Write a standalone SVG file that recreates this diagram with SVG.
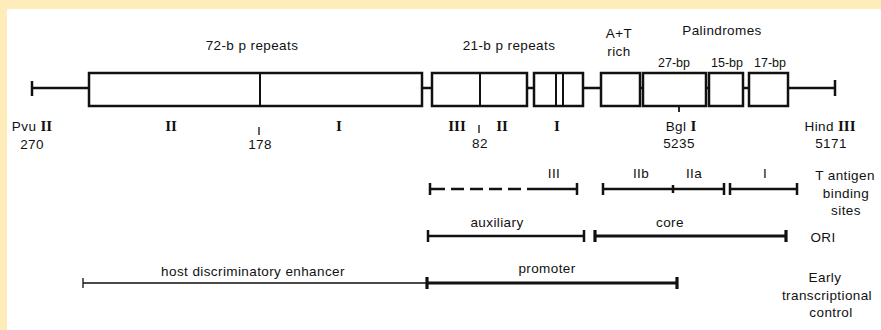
<svg xmlns="http://www.w3.org/2000/svg" width="881" height="330" viewBox="0 0 881 330">
<style>
text{font-family:"Liberation Sans","DejaVu Sans",sans-serif;font-size:13.5px;fill:#111;text-anchor:middle;letter-spacing:0.4px}
.rn{font-family:"Liberation Serif",serif;font-weight:bold;font-size:15px;letter-spacing:0}
.box{fill:#fff;stroke:#111;stroke-width:2.5}
.ln{stroke:#111;stroke-width:2.5;fill:none}
.thin{stroke:#111;stroke-width:1.3;fill:none}
.thk{stroke:#111;stroke-width:3.2;fill:none}
</style>
<rect x="0" y="0" width="881" height="330" fill="#FEEDBA"/>
<rect x="7" y="9" width="874" height="321" fill="#fff"/>

<g id="connectors">
  <path class="ln" d="M32 88H89 M32 81V96 M422 88H432 M527 88H534 M583 88H601 M640 88H643 M706 88H709 M743 88H749 M788 88H835 M835 80V96"/>
  <path class="ln" d="M679 106V112" style="stroke-width:1.8"/>
  <path class="ln" d="M430 189H445 M451 189H464 M470 189H483 M489 189H502 M508 189H521 M527 189H577 M430 183V195 M577 183V195"/>
  <path class="ln" d="M603 189H724 M603 183V195 M724 183V195 M673 185V193"/>
  <path class="ln" d="M730 189H797 M730 183V195 M797 183V195"/>
  <path class="ln" d="M428 236H584 M428 230V242 M584 230V242"/>
  <path class="thk" d="M595 236H786 M595 230V242 M786 230V242"/>
  <path class="thin" d="M83 283H427 M83 278V288"/>
  <path class="thk" d="M427 283H677 M427 277V289 M677 277V289"/>
</g>

<g id="repeat72">
  <rect class="box" x="89" y="73" width="333" height="33"/>
  <path class="ln" d="M260 73V106" style="stroke-width:2"/>
  <text x="252" y="50">72-b p repeats</text>
</g>
<g id="repeat21">
  <rect class="box" x="432" y="73" width="95" height="33"/>
  <path class="ln" d="M480 73V106" style="stroke-width:2"/>
  <rect class="box" x="534" y="73" width="49" height="33"/>
  <path class="ln" d="M556 73V106 M563 73V106" style="stroke-width:2"/>
  <text x="509" y="50">21-b p repeats</text>
</g>
<g id="atrich">
  <rect class="box" x="601" y="73" width="39" height="33"/>
  <text x="619" y="38">A+T</text>
  <text x="619" y="56">rich</text>
</g>
<g id="palindromes">
  <rect class="box" x="643" y="73" width="63" height="33"/>
  <rect class="box" x="709" y="73" width="34" height="33"/>
  <rect class="box" x="749" y="73" width="39" height="33"/>
  <text x="722" y="35">Palindromes</text>
  <text x="674" y="67" style="font-size:12.5px;letter-spacing:0">27-bp</text>
  <text x="727" y="67" style="font-size:12.5px;letter-spacing:0">15-bp</text>
  <text x="770" y="67" style="font-size:12.5px;letter-spacing:0">17-bp</text>
</g>

<g id="labels-sites">
  <text x="32" y="131">Pvu <tspan class="rn">II</tspan></text>
  <text x="32" y="149">270</text>
  <text class="rn" x="171" y="131">II</text>
  <path class="thin" d="M259 127V135"/>
  <text x="260" y="149">178</text>
  <text class="rn" x="339" y="131">I</text>
  <text class="rn" x="457" y="131">III</text>
  <path class="thin" d="M479 125V133"/>
  <text class="rn" x="502" y="131">II</text>
  <text x="480" y="148">82</text>
  <text class="rn" x="557" y="131">I</text>
  <text x="681" y="131">Bgl <tspan class="rn">I</tspan></text>
  <text x="679" y="148">5235</text>
  <text x="830" y="131">Hind <tspan class="rn">III</tspan></text>
  <text x="831" y="148">5171</text>
</g>

<g id="tantigen">
  <text x="554" y="178">III</text>
  <text x="641" y="178">IIb</text>
  <text x="694" y="178">IIa</text>
  <text x="765" y="178">I</text>
  <text x="845" y="180">T antigen</text>
  <text x="846" y="198">binding</text>
  <text x="846" y="215">sites</text>
</g>
<g id="ori">
  <text x="497" y="227">auxiliary</text>
  <text x="670" y="227">core</text>
  <text x="823" y="242">ORI</text>
</g>
<g id="early">
  <text x="253" y="276">host discriminatory enhancer</text>
  <text x="547" y="273">promoter</text>
  <text x="825" y="282">Early</text>
  <text x="827" y="300">transcriptional</text>
  <text x="831" y="317">control</text>
</g>
</svg>
